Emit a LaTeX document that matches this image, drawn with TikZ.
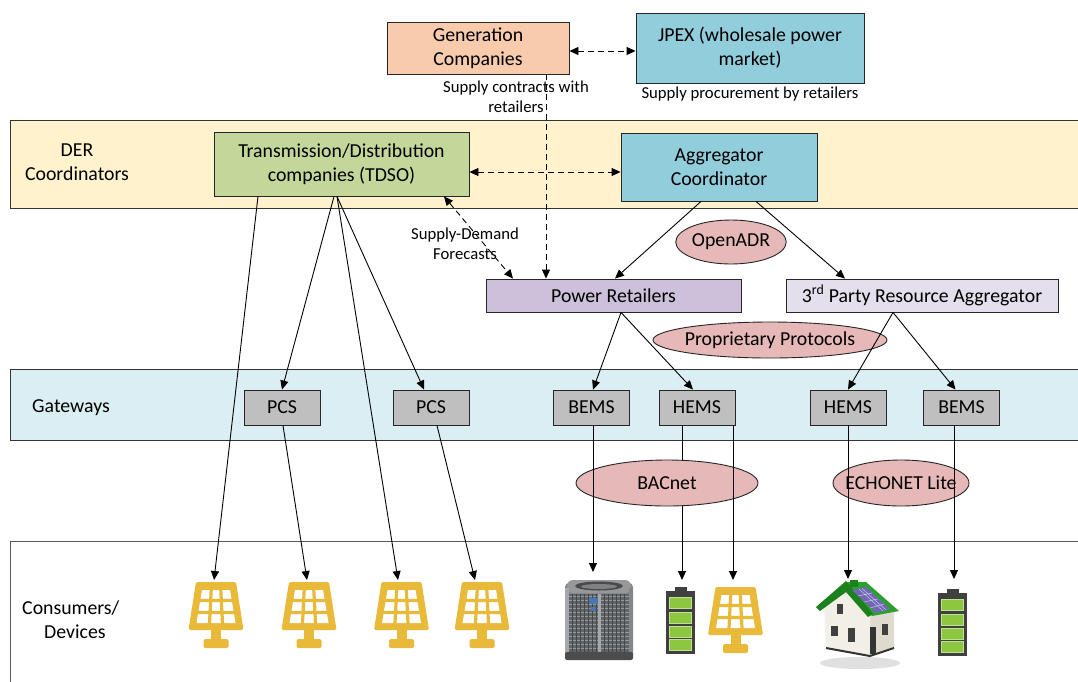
\documentclass[tikz,border=0pt]{standalone}
\usepackage{fontspec}
\setmainfont{Carlito}
\usetikzlibrary{arrows.meta,shapes.geometric,calc}

\definecolor{derfill}{RGB}{255,242,204}
\definecolor{gwfill}{RGB}{218,238,243}
\definecolor{genfill}{RGB}{248,203,173}
\definecolor{mktfill}{RGB}{146,205,220}
\definecolor{tdsofill}{RGB}{196,215,155}
\definecolor{retfill}{RGB}{204,192,218}
\definecolor{thirdfill}{RGB}{228,223,236}
\definecolor{protofill}{RGB}{230,184,183}
\definecolor{gatefill}{RGB}{191,191,191}
\definecolor{solarc}{RGB}{233,185,58}
\definecolor{batdark}{RGB}{64,64,64}
\definecolor{batgreen}{RGB}{141,198,63}
\definecolor{acbody}{RGB}{132,135,137}
\definecolor{aclid}{RGB}{150,152,154}
\definecolor{acfan}{RGB}{72,74,77}
\definecolor{acgrill}{RGB}{98,101,104}
\definecolor{acline}{RGB}{150,153,156}
\definecolor{acpost}{RGB}{165,168,170}
\definecolor{aclogo}{RGB}{70,120,180}
\definecolor{roofgreen}{RGB}{44,160,44}
\definecolor{roofdark}{RGB}{28,128,28}
\definecolor{wallfront}{RGB}{242,240,230}
\definecolor{wallside}{RGB}{222,219,206}
\definecolor{panelblue}{RGB}{112,104,182}

\newcommand\fmain{\fontsize{19.8}{24}\selectfont}
\newcommand\fsmall{\fontsize{16.7}{20}\selectfont}

\begin{document}
\begin{tikzpicture}[x=1pt,y=-1pt,
  >={Triangle[length=9pt,width=8pt]},
  box/.style={draw=black!85, line width=0.9pt, inner sep=0pt, align=center, font=\fmain},
  gate/.style={box, fill=gatefill, minimum width=76, minimum height=35},
  band/.style={draw=black!80, line width=0.9pt},
  lbl/.style={align=center, font=\fmain, inner sep=0pt},
  note/.style={align=center, font=\fsmall, inner sep=0pt},
  link/.style={->, line width=0.9pt},
  dlink/.style={<->, line width=0.9pt, dash pattern=on 6pt off 4pt},
  dlinkone/.style={->, line width=0.9pt, dash pattern=on 6pt off 4pt},
  proto/.style={ellipse, draw=black!85, fill=protofill, line width=0.9pt, inner sep=0pt, font=\fmain},
  icon/.style={inner sep=0pt, anchor=north},
  solarpanel/.pic={
    \fill[solarc, rounded corners=1.5] (-20,0) -- (20,0) -- (27.5,48) -- (-27.5,48) -- cycle;
    \fill[white] (-14,8) -- (14,8) -- (19.5,41) -- (-19.5,41) -- cycle;
    \draw[solarc, line width=3.2pt] (-21.5,18.5) -- (21.5,18.5) (-22.5,30.5) -- (22.5,30.5)
      (-4.7,6) -- (-6.6,43) (4.7,6) -- (6.6,43);
    \fill[solarc] (-5,47) rectangle (5,59);
    \fill[solarc, rounded corners=1.5] (-12.5,57) rectangle (12.5,66);
  },
  battery/.pic={
    \fill[batdark] (-6,0) rectangle (6,5);
    \fill[batdark] (-14.5,4) rectangle (14.5,67);
    \foreach \yy in {10,25,39,52}
      \draw[batgreen!55!white, line width=0.8pt, fill=batgreen] (-11,\yy) rectangle (11,\yy+11);
  }
]
\useasboundingbox (0,0) rectangle (1078,681);
\clip (0,0) rectangle (1078,681);

% ---- layer bands ----
\draw[band, fill=derfill] (10,120) rectangle (1090,208);
\draw[band, fill=gwfill] (10,369) rectangle (1090,440);
\draw[band, draw=black!65, fill=white] (10,541) rectangle (1090,700);

\node[lbl] (derlbl) at (77,162) {DER\\Coordinators};
\node[lbl] (gwlbl) at (71,408) {Gateways};
\node[lbl, align=left, anchor=west] (conslbl) at (22,620) {Consumers/\\\hspace*{22pt}Devices};

% ---- market and coordinator boxes ----
\node[box, fill=genfill, minimum width=182, minimum height=52] (gen) at (478,48) {Generation\\Companies};
\node[box, fill=mktfill, minimum width=228, minimum height=70] (jpex) at (750,48) {JPEX (wholesale power\\market)};
\node[box, fill=tdsofill, minimum width=255, minimum height=64] (tdso) at (341.5,164) {Transmission/Distribution\\companies (TDSO)};
\node[box, fill=mktfill, minimum width=196, minimum height=68] (aggr) at (719,167) {Aggregator\\Coordinator};
\node[box, fill=retfill, minimum width=255, minimum height=33] (retail) at (613.5,295.5) {Power Retailers};
\node[box, fill=thirdfill, minimum width=272, minimum height=33] (third) at (922,295.5) {3\textsuperscript{rd} Party Resource Aggregator};

% ---- gateway boxes ----
\node[gate] (pcs1) at (282,407.5) {PCS};
\node[gate] (pcs2) at (431,407.5) {PCS};
\node[gate] (bems1) at (591.5,407.5) {BEMS};
\node[gate] (hems1) at (697,407.5) {HEMS};
\node[gate] (hems2) at (848,407.5) {HEMS};
\node[gate] (bems2) at (961.5,407.5) {BEMS};

% ---- device placeholders ----
\node[icon, minimum width=55, minimum height=66] (sol1) at (216,582) {};
\node[icon, minimum width=55, minimum height=66] (sol2) at (309,582) {};
\node[icon, minimum width=55, minimum height=66] (sol3) at (401.5,582) {};
\node[icon, minimum width=55, minimum height=66] (sol4) at (482,582) {};
\node[icon, minimum width=55, minimum height=66] (sol5) at (735.5,587) {};
\node[icon, minimum width=68, minimum height=80] (ac) at (599,580) {};
\node[icon, minimum width=29, minimum height=67] (bat1) at (680.5,587) {};
\node[icon, minimum width=29, minimum height=67] (bat2) at (952.5,589) {};
\node[icon, minimum width=83, minimum height=86] (house) at (858.5,581) {};

% ---- protocol labels ----
\node[proto, minimum width=98, minimum height=44] (openadr) at (731,242) {OpenADR};
\node[proto, minimum width=234, minimum height=36] (propr) at (770,340) {\makebox[0pt]{Proprietary Protocols}};
\draw[link] ([xshift=-15]hems1.south) -- ([xshift=1.5,yshift=7]bat1.north);
\node[proto, minimum width=182, minimum height=46] (bacnet) at (667,483) {\makebox[0pt]{BACnet}};
\node[proto, minimum width=136, minimum height=46] (echonet) at (901,483) {\makebox[0pt]{ECHONET Lite}};

% ---- market links ----
\draw[dlink] ([yshift=-3]gen.east) -- ([yshift=-3]gen.east -| jpex.west);
\draw[dlinkone] ([xshift=68]gen.south) -- ([xshift=68]gen.south |- retail.north);
\draw[dlink] ([yshift=-8]tdso.east) -- ([yshift=-8]tdso.east -| aggr.west);
\draw[dlink] ([xshift=102.5]tdso.south) -- ([xshift=-100.5]retail.north);

\node[note] (contracts) at (516,97) {Supply contracts with\\retailers};
\node[note] (procure) at (750,94) {Supply procurement by retailers};
\node[note] (forecast) at (465,244) {Supply-Demand\\Forecasts};

% ---- coordinator links ----
\draw[link] ([xshift=-18]aggr.south) -- ([xshift=1.5]retail.north);
\draw[link] ([xshift=37]aggr.south) -- ([xshift=-77]third.north);
\draw[link] ([xshift=7.5]retail.south) -- ([xshift=1.5]bems1.north);
\draw[link] ([xshift=7.5]retail.south) -- ([xshift=-4]hems1.north);
\draw[link] ([xshift=-29]third.south) -- (hems2.north);
\draw[link] ([xshift=-29]third.south) -- ([xshift=-6]bems2.north);

% ---- TDSO links ----
\draw[link] ([xshift=-7.5]tdso.south) -- (pcs1.north);
\draw[link] ([xshift=-4.5]tdso.south) -- ([xshift=-7]pcs2.north);
\draw[link] ([xshift=-4.5]tdso.south) -- ([xshift=-3.5,yshift=2]sol3.north);
\draw[link] ([xshift=-83.5]tdso.south) -- ([xshift=-2,yshift=2]sol1.north);
\draw[link] ([xshift=1]pcs1.south) -- ([xshift=-2,yshift=2]sol2.north);
\draw[link] ([xshift=6]pcs2.south) -- ([xshift=-7,yshift=2]sol4.north);

% ---- gateway to device links ----
\draw[link] ([xshift=1.5]bems1.south) -- ([xshift=-6,yshift=8]ac.north);
\draw[link] ([xshift=36]hems1.south) -- ([xshift=-2.5,yshift=7]sol5.north);
\draw[link] (hems2.south) -- ([xshift=-10.5,yshift=2]house.north);
\draw[link] ([xshift=-7.5]bems2.south) -- ([xshift=1.5,yshift=10]bat2.north);

% ---- devices ----
\pic at (sol1.north) {solarpanel};
\pic at (sol2.north) {solarpanel};
\pic at (sol3.north) {solarpanel};
\pic at (sol4.north) {solarpanel};
\pic at (sol5.north) {solarpanel};
\pic at (bat1.north) {battery};
\pic at (bat2.north) {battery};

% air-conditioning unit
\begin{scope}[shift={(ac.north)}]
  \fill[acbody, rounded corners=4] (-34,3) rectangle (34,78);
  \fill[aclid, rounded corners=6] (-32,0) rectangle (32,13);
  \fill[acfan] (0,6) ellipse [x radius=24, y radius=4.5];
  \fill[aclid!85!black] (0,6.5) ellipse [x radius=18, y radius=2.5];
  \fill[acgrill] (-30,14) rectangle (30,72);
  \foreach \yy in {16,20,...,70}
    \draw[acline, line width=0.8pt] (-30,\yy) -- (30,\yy);
  \foreach \xx in {-27,-23,...,27}
    \draw[acgrill!70!black, line width=0.4pt] (\xx,14) -- (\xx,72);
  \fill[acpost] (-34,8) rectangle (-30,74);
  \fill[acbody] (30,8) rectangle (34,74);
  \fill[acpost] (-1.5,14) rectangle (1.5,72);
  \fill[aclogo] (-10,18) rectangle (-1,24);
  \fill[aclogo] (-8,27) rectangle (-3,31);
  \fill[black!70, rounded corners=2] (-34,72) rectangle (34,80);
\end{scope}

% house with rooftop solar
\fill[black!12] (860,663) ellipse [x radius=40, y radius=6];
\fill[wallside] (870,613) -- (894,609) -- (894,648) -- (870,656) -- cycle;
\fill[wallfront] (824,606) -- (846,588) -- (870,613) -- (870,656) -- (826,648) -- cycle;
\draw[black!80, line width=2pt] (826,648) -- (870,656) -- (894,648);
\fill[roofgreen] (846,582) -- (866,582) -- (899,611) -- (872,616) -- cycle;
\fill[roofdark] (816,607) -- (846,581) -- (873,614) -- (868,617) -- (846,592) -- (820,611) -- cycle;
\fill[panelblue] (852,590) -- (866,587) -- (890,609) -- (876,613) -- cycle;
\draw[white!70!panelblue, line width=0.4pt] (858,596) -- (872,593) (864,602) -- (878,599) (870,608) -- (884,604)
  (859,589) -- (883,611) (862,588.5) -- (886,610);
\fill[roofdark] (850,580) rectangle (858,587);
\fill[black!75] (837,604) rectangle (843,614);
\fill[black!75] (831,626) rectangle (838,636);
\fill[black!75] (848,628) rectangle (855,642);
\fill[black!80] (870,627) rectangle (876,654);
\fill[black!75] (882,624) rectangle (888,635);
\end{tikzpicture}
\end{document}
